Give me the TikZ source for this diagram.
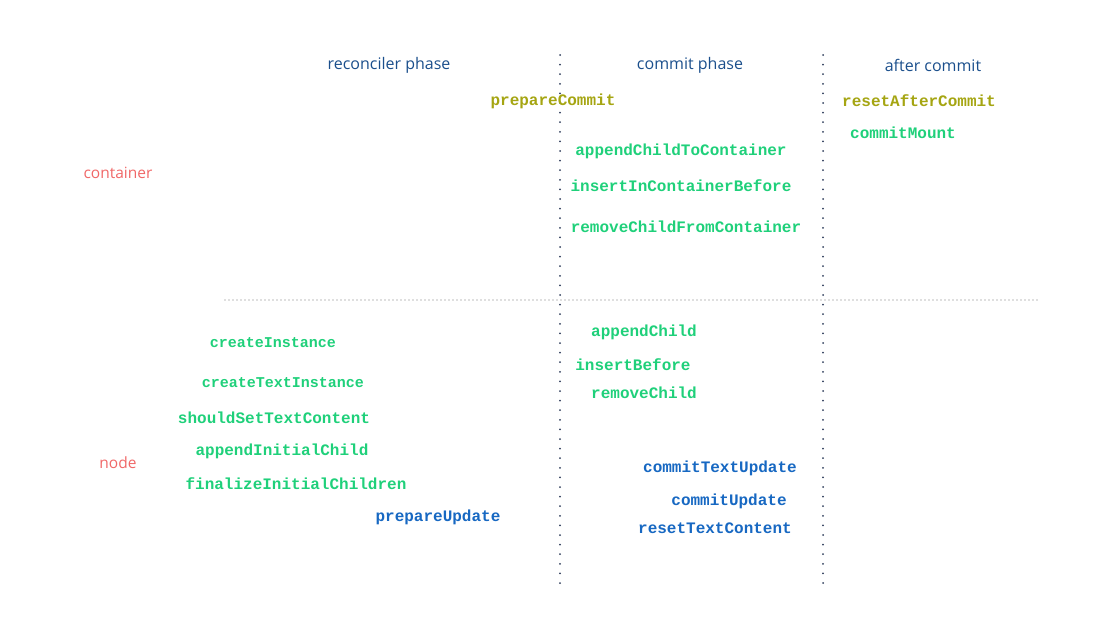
\documentclass[tikz,border=0pt]{standalone}
\usepackage{fontspec}
\setmainfont{Open Sans}
\newfontfamily\codefont{Liberation Mono}
\usetikzlibrary{positioning}
\definecolor{phaseblue}{HTML}{1B4F8C}
\definecolor{apired}{HTML}{F06868}
\definecolor{apigreen}{HTML}{1FD07A}
\definecolor{apiolive}{HTML}{A5A512}
\definecolor{apiblue}{HTML}{1768C2}
\definecolor{sepdot}{HTML}{2E3D5C}
\tikzset{
    phase/.style={text=phaseblue, font=\fontsize{16}{18}\selectfont, inner sep=0pt},
    kind/.style={text=apired, font=\fontsize{15.5}{18}\selectfont, inner sep=0pt},
    api/.style={font=\codefont\bfseries\fontsize{16}{18}\selectfont, inner sep=0pt},
    mount/.style={api, text=apigreen},
    hook/.style={api, text=apiolive},
    upd/.style={api, text=apiblue},
    vsep/.style={sepdot, line width=2pt, line cap=round, dash pattern=on 0pt off 9.6pt},
    hsep/.style={black!55, line width=1.3pt, line cap=round, dash pattern=on 0pt off 4pt}
}

\begin{document}
\begin{tikzpicture}[x=1pt, y=-1pt]
    \useasboundingbox (0,0) rectangle (1094,638);
    % separators
    \coordinate (c1top) at (560,55);
    \coordinate (c1bot) at (560,585);
    \coordinate (c2top) at (823,55);
    \coordinate (c2bot) at (823,585);
    \coordinate (rowl) at (225,300);
    \coordinate (rowr) at (1040,300);
    \draw[vsep] (c1top) -- (c1bot);
    \draw[vsep] (c2top) -- (c2bot);
    \draw[hsep] (rowl) -- (rowr);

    % phase headers
    \node[phase] (reconciler) at (389,65) {reconciler phase};
    \node[phase] (commit) at (690,65) {commit phase};
    \node[phase] (after) at (933,65) {after commit};

    % row labels
    \node[kind] (container) at (118,173) {container};
    \node[kind] (node) at (118,463) {node};

    % container row
    \node[hook] (prepareCommit) at (553,101) {prepareCommit};
    \node[hook] (resetAfterCommit) at (919,101) {resetAfterCommit};
    \node[mount] (commitMount) at (903,133) {commitMount};
    \node[mount] (appendChildToContainer) at (681,151) {appendChildToContainer};
    \node[mount] (insertInContainerBefore) at (681,186) {insertInContainerBefore};
    \node[mount] (removeChildFromContainer) at (686,227) {removeChildFromContainer};

    % node row, reconciler
    \node[mount, font=\codefont\bfseries\fontsize{15}{17}\selectfont] (createInstance) at (273,343) {createInstance};
    \node[mount, font=\codefont\bfseries\fontsize{15}{17}\selectfont] (createTextInstance) at (283,383) {createTextInstance};
    \node[mount] (shouldSetTextContent) at (274,418) {shouldSetTextContent};
    \node[mount] (appendInitialChild) at (282,451) {appendInitialChild};
    \node[mount] (finalizeInitialChildren) at (296,484) {finalizeInitialChildren};
    \node[upd] (prepareUpdate) at (438,517) {prepareUpdate};

    % node row, commit
    \node[mount] (appendChild) at (644,332) {appendChild};
    \node[mount] (insertBefore) at (633,365) {insertBefore};
    \node[mount] (removeChild) at (644,393) {removeChild};
    \node[upd] (commitTextUpdate) at (720,468) {commitTextUpdate};
    \node[upd] (commitUpdate) at (729,501) {commitUpdate};
    \node[upd] (resetTextContent) at (715,528) {resetTextContent};
\end{tikzpicture}
\end{document}
